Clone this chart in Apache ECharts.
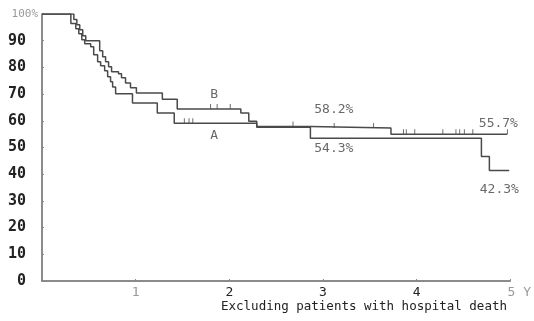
<!DOCTYPE html>
<html>
<head>
<meta charset="utf-8">
<script src="https://cdn.jsdelivr.net/npm/echarts@6/dist/echarts.min.js"></script>
<style>
html,body{margin:0;padding:0;background:#fff;}
#chart{width:534px;height:321px;}
</style>
</head>
<body>
<div id="chart"></div>
<script>
// Kaplan-Meier steps: time (years) and survival (%)
var timesA = [0, 0.308, 0.361, 0.393, 0.425, 0.456, 0.520, 0.552, 0.594, 0.626, 0.669, 0.701, 0.732, 0.754, 0.786, 0.966, 1.231, 1.412, 2.293, 2.866, 4.692, 4.777, 4.989];
var survA  = [100, 96.4, 94.5, 92.6, 90.4, 88.9, 87.7, 84.7, 82.1, 80.6, 78.7, 76.5, 74.6, 72.7, 70.1, 66.7, 62.9, 59.1, 57.6, 53.5, 46.6, 41.4, 41.4];
var timesB = [0, 0.340, 0.372, 0.403, 0.435, 0.467, 0.616, 0.648, 0.679, 0.711, 0.743, 0.817, 0.849, 0.892, 0.945, 1.008, 1.285, 1.444, 2.123, 2.208, 2.293, 2.866, 3.726, 4.968];
var survB  = [100, 97.9, 96.0, 94.1, 91.9, 90.0, 86.2, 84.0, 82.1, 80.2, 78.4, 77.6, 76.1, 74.2, 72.4, 70.4, 68.1, 64.4, 62.9, 59.8, 57.9, 57.3, 55.0, 55.0];
// censored observations (times)
var censorA = [1.52, 1.57, 1.61];
var censorB = [1.80, 1.87, 2.01, 2.68, 3.12, 3.54, 3.86, 3.89, 3.98, 4.28, 4.42, 4.46, 4.51, 4.60, 4.97];
// axis ticks
var yTicks = [0, 10, 20, 30, 40, 50, 60, 70, 80, 90, 100];
var xTicks = [0, 1, 2, 3, 4, 5];
// annotations
var annoText = ['B', 'A', '58.2%', '54.3%', '55.7%', '42.3%'];
var annoT    = [1.837, 1.837, 3.116, 3.116, 4.873, 4.883];
var annoS    = [69.7, 54.4, 64.1, 49.4, 59.1, 34.1];

function pairs(t, s){ return t.map(function(v,i){ return [v, s[i]]; }); }
function survAt(t, s, x){ var v = s[0]; for (var i=0;i<t.length;i++){ if (t[i] <= x) v = s[i]; } return v; }
function censorPts(c, t, s){ return c.map(function(x){ return [x, survAt(t, s, x)]; }); }

var mono = '"DejaVu Sans Mono", "Liberation Mono", monospace';
var lineColor = '#4a4a4a';

var chart = echarts.init(document.getElementById('chart'), null, {renderer:'canvas'});
chart.setOption({
  animation: false,
  backgroundColor: '#fff',
  title: {
    text: 'Excluding patients with hospital death',
    left: 216, top: 295,
    textStyle: { fontFamily: mono, fontSize: 12.5, fontWeight: 'normal', color: '#222' }
  },
  grid: { left: 42, right: 22, top: 14, bottom: 40 },
  xAxis: {
    type: 'value', min: 0, max: 5, interval: 1,
    axisLine: { lineStyle: { color: '#666', width: 1.5 } },
    axisTick: { show: true, inside: true, length: 2, lineStyle: { color: '#888' } },
    splitLine: { show: false },
    axisLabel: {
      margin: 5,
      fontFamily: mono, fontSize: 13, color: '#222',
      formatter: function(v){
        if (v === 0) return '';
        if (v === 1) return '{g|1}';
        if (v === 5) return '{y|5 Y}';
        return String(v);
      },
      rich: {
        g: { fontFamily: mono, fontSize: 13, color: '#999' },
        y: { fontFamily: mono, fontSize: 13, color: '#999', padding: [0,0,0,18] }
      }
    }
  },
  yAxis: {
    type: 'value', min: 0, max: 100, interval: 10,
    axisLine: { show: true, lineStyle: { color: '#666', width: 1.5 } },
    axisTick: { show: true, inside: true, length: 2, lineStyle: { color: '#888' } },
    splitLine: { show: false },
    axisLabel: {
      margin: 16,
      fontFamily: mono, fontSize: 15, fontWeight: 'bold', color: '#222',
      formatter: function(v){ return v === 100 ? '{s|100%}' : String(v); },
      rich: { s: { fontFamily: mono, fontSize: 11, fontWeight: 'normal', color: '#999', padding: [0,-12,0,0] } }
    }
  },
  series: [
    { name: 'A', type: 'line', step: 'end', data: pairs(timesA, survA), symbol: 'none',
      lineStyle: { color: lineColor, width: 1.5 } },
    { name: 'B', type: 'line', step: 'end', data: pairs(timesB, survB), symbol: 'none',
      lineStyle: { color: lineColor, width: 1.5 } },
    { name: 'censorA', type: 'scatter', data: censorPts(censorA, timesA, survA),
      symbol: 'path://M0 0L1 0L1 10L0 10Z', symbolSize: [1, 5], symbolOffset: [0, -2.5],
      itemStyle: { color: lineColor } },
    { name: 'censorB', type: 'scatter', data: censorPts(censorB, timesB, survB),
      symbol: 'path://M0 0L1 0L1 10L0 10Z', symbolSize: [1, 5], symbolOffset: [0, -2.5],
      itemStyle: { color: lineColor } },
    { name: 'labels', type: 'scatter', symbolSize: 1, itemStyle: { color: 'transparent' },
      data: annoText.map(function(txt,i){ return { name: txt, value: [annoT[i], annoS[i]] }; }),
      label: { show: true, position: 'inside', formatter: '{b}',
        fontFamily: mono, fontSize: 13, color: '#444' } }
  ]
});
</script>
</body>
</html>
